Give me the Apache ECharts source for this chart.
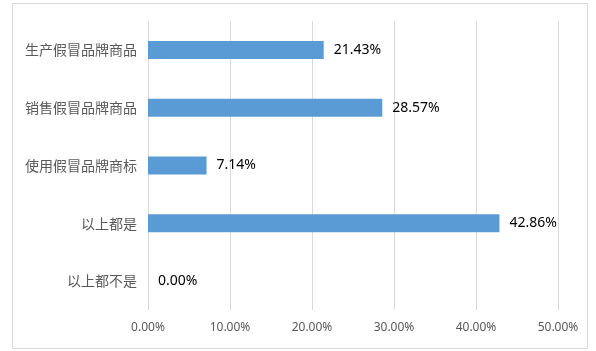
<!DOCTYPE html>
<html>
<head>
<meta charset="utf-8">
<script src="https://cdn.jsdelivr.net/npm/echarts@6/dist/echarts.min.js"></script>
<style>
  html, body { margin: 0; padding: 0; background: #fff; }
  #chart { width: 596px; height: 351px; }
</style>
</head>
<body>
<div id="chart"></div>
<script>
// 类别（从上到下）
var categories = ['生产假冒品牌商品', '销售假冒品牌商品', '使用假冒品牌商标', '以上都是', '以上都不是'];
// 百分比
var values = [21.43, 28.57, 7.14, 42.86, 0.00];
var xMax = 50;
var xStep = 10;

var chart = echarts.init(document.getElementById('chart'));

var option = {
  animation: false,
  backgroundColor: '#fff',
  graphic: [{
    type: 'rect',
    shape: { x: 12.5, y: 3.5, width: 575, height: 345 },
    style: { fill: 'none', stroke: '#d9d9d9', lineWidth: 1 },
    silent: true
  }],
  grid: {
    left: 148,
    right: 38,
    top: 21,
    bottom: 41
  },
  xAxis: {
    type: 'value',
    min: 0,
    max: xMax,
    interval: xStep,
    axisLine: { show: false },
    axisTick: { show: false },
    splitLine: { lineStyle: { color: '#d9d9d9', width: 1 } },
    axisLabel: {
      color: '#595959',
      fontSize: 12,
      fontFamily: 'Noto Sans, sans-serif',
      margin: 12,
      formatter: function (v) { return v.toFixed(2) + '%'; }
    }
  },
  yAxis: {
    type: 'category',
    data: categories,
    inverse: true,
    axisLine: { show: false },
    axisTick: { show: false },
    axisLabel: {
      color: '#595959',
      fontSize: 14,
      fontFamily: 'Noto Sans CJK SC, sans-serif',
      margin: 11
    }
  },
  series: [{
    type: 'bar',
    data: values,
    barWidth: 18,
    itemStyle: { color: '#5b9bd5' },
    label: {
      show: true,
      position: 'right',
      distance: 10,
      color: '#000',
      fontSize: 14,
      fontFamily: 'Noto Sans, sans-serif',
      formatter: function (p) { return p.value.toFixed(2) + '%'; }
    }
  }]
};

chart.setOption(option);
</script>
</body>
</html>
